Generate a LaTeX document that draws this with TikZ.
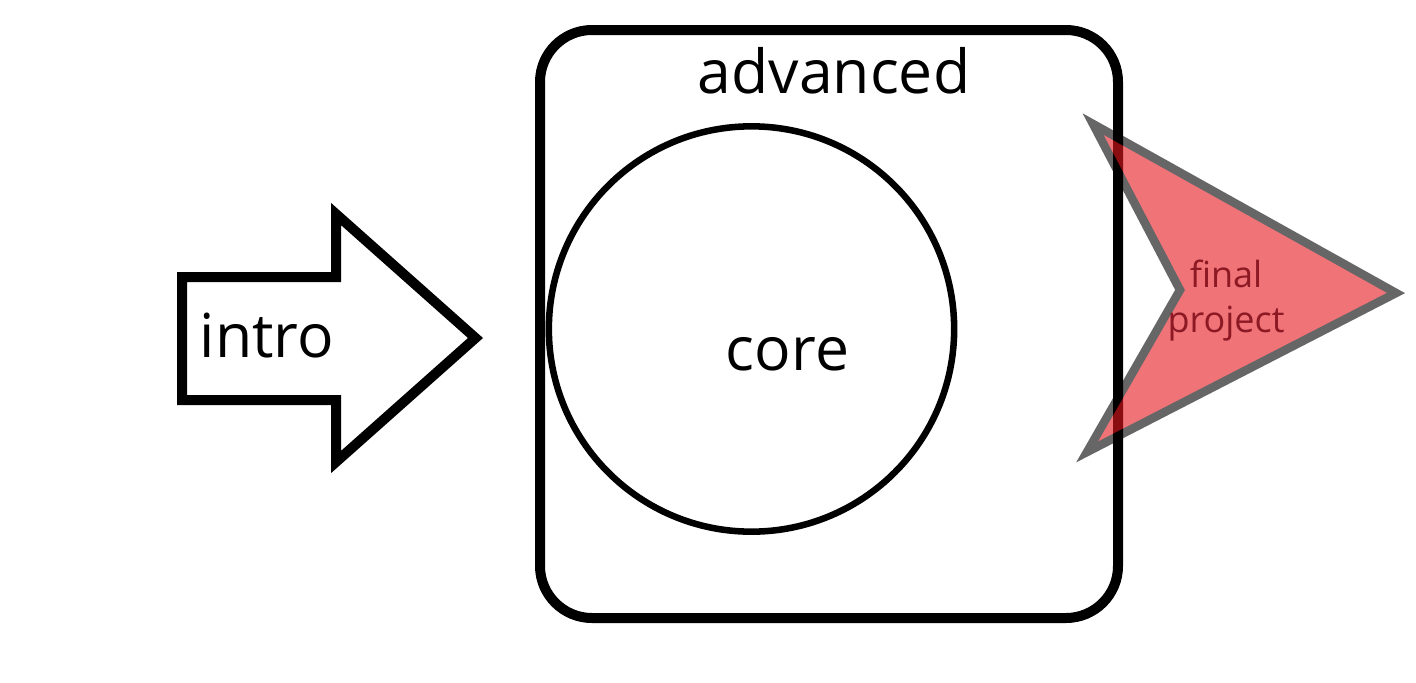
\documentclass[tikz,border=0pt]{standalone}
\usepackage{fontspec}
\setmainfont{Open Sans}
\begin{document}
\begin{tikzpicture}[x=0.75pt,y=-0.75pt,
  bigtext/.style={font=\fontsize{45.5}{54}\selectfont, anchor=base, inner sep=0pt},
  smalltext/.style={font=\fontsize{27}{33.75}\selectfont, align=center, text=projtext, inner sep=0pt},
  frame/.style={draw=black, line width=7.5pt, rounded corners=39pt},
  corecircle/.style={draw=black, line width=4.9pt, circle, minimum size=304pt, inner sep=0pt},
  introarrow/.style={draw=black, line width=7.5pt, fill=white, line join=miter},
  projshape/.style={draw=black, fill=projfill, line width=6.4pt, line join=miter}
]
\definecolor{projfill}{RGB}{230,22,30}
\definecolor{projtext}{RGB}{140,25,35}
\useasboundingbox (0,0) rectangle (1416,682);

% advanced frame
\draw[frame] (540,30) rectangle (1118,618);
\node[bigtext] (adv) at (834,93) {advanced};

% core circle
\node[corecircle] (core) at (751.5,329) {};
\node[bigtext] (coretext) at (787.5,370) {core};

% intro arrow
\draw[introarrow] (182,277) -- (336,277) -- (336,214) -- (475.5,338)
  -- (336,462) -- (336,400) -- (182,400) -- cycle;
\node[bigtext] (intro) at (267,357) {intro};

% final project chevron
\begin{scope}[transparency group, opacity=0.6]
\draw[projshape] (1093,124) -- (1396,293) -- (1087,452) -- (1180,290) -- cycle;
\end{scope}
\node[smalltext] (proj) at (1226,301) {final\\project};
\end{tikzpicture}
\end{document}
